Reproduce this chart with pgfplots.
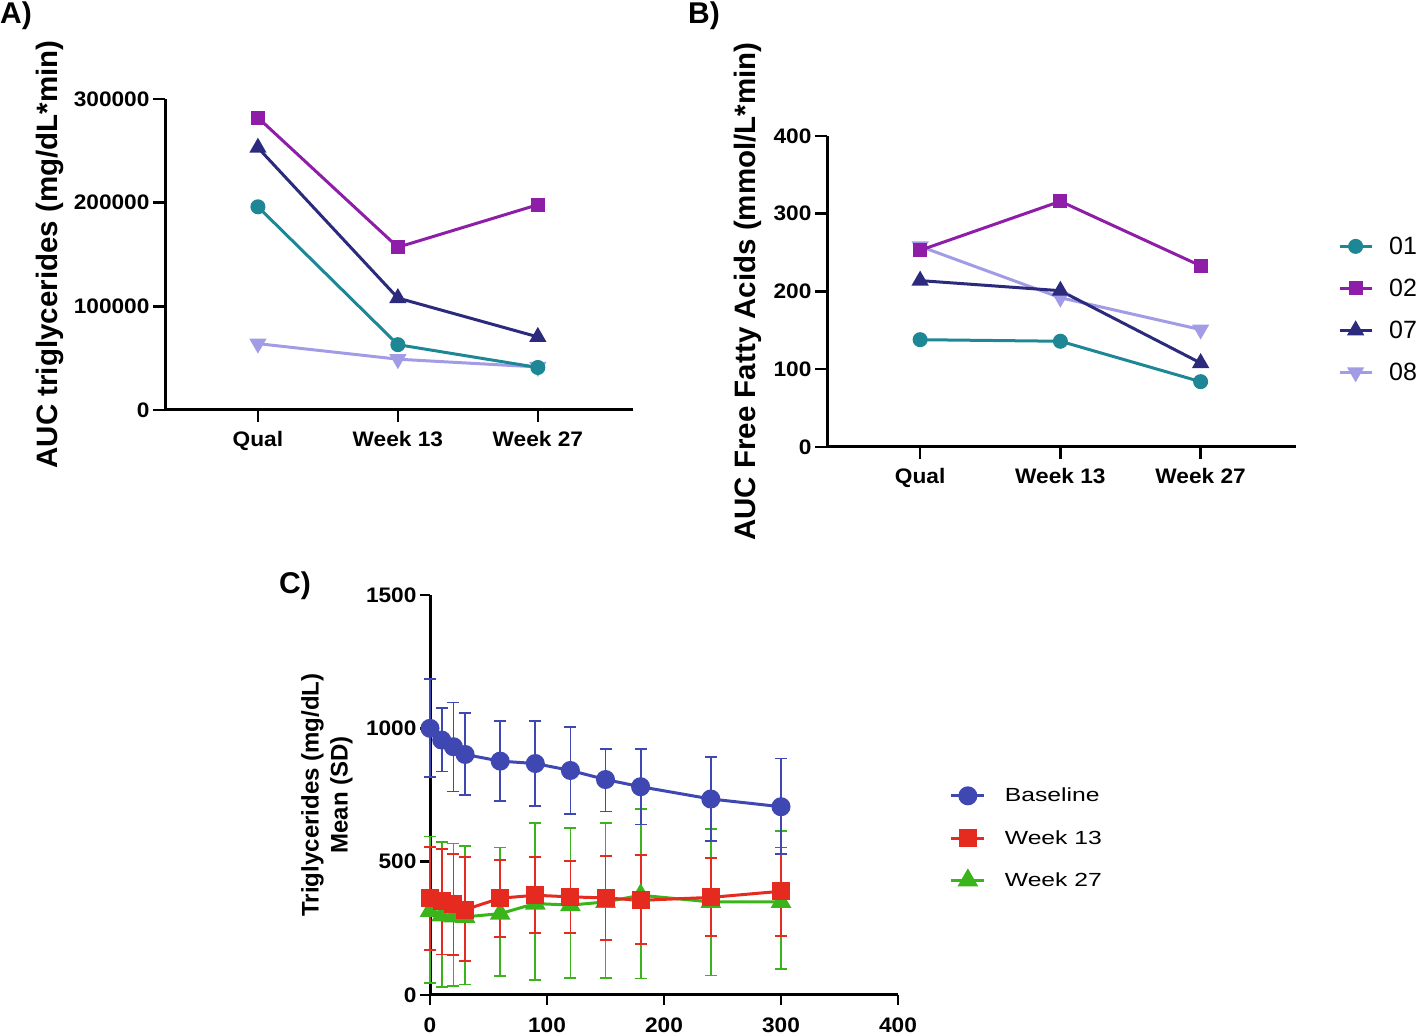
\documentclass[border=0pt]{standalone}
\usepackage{fontspec}
\setmainfont{Liberation Sans}
\newfontfamily\widefont{Liberation Sans}[FakeStretch=1.08]
\newfontfamily\legfont{Liberation Sans}[FakeStretch=1.3]
\usepackage{pgfplots}
\pgfplotsset{compat=1.18}
\usepackage{pgfplotstable}
\definecolor{cteal}{HTML}{1E8796}
\definecolor{cpurple}{HTML}{8E1EA8}
\definecolor{cnavy}{HTML}{2B2A7D}
\definecolor{clav}{HTML}{A29BE6}
\definecolor{cblue}{HTML}{3F48B2}
\definecolor{cred}{HTML}{E52B20}
\definecolor{cgreen}{HTML}{3BB31A}

\pgfplotstableread{
x y ep em
0 1000 185 182
10 956 121 118
20 931 166 168
30 902 155 153
60 877 149 150
90 868 160 158
120 842 162 164
150 808 115 120
180 781 141 142
240 735 158 158
300 706 181 178
}\baseline
\pgfplotstableread{
x y ep em
0 364 191 196
10 353 195 201
20 343 187 193
30 320 196 193
60 363 143 147
90 374 144 143
120 368 133 137
150 364 157 159
180 355 170 165
240 366 148 146
300 389 164 167
}\weekthirteen
\pgfplotstableread{
x y ep em
0 315 279 269
10 299 274 268
20 295 273 260
30 293 265 254
60 305 248 235
90 343 303 286
120 337 290 272
150 349 297 284
180 374 323 312
240 349 274 276
300 349 265 252
}\weektwentyseven

\begin{document}
\begin{tikzpicture}
\path[use as bounding box] (0,0) rectangle (1418pt,1035pt);
\pgfplotsset{
  base/.style={
    scale only axis,
    axis lines*=left,
    axis line style={-, line width=3pt, black},
    tick style={line width=2.5pt, black},
    major tick length=12pt,
    tick align=outside,
    minor tick num=0,
    scaled ticks=false,
    ticklabel style={font=\fontsize{21}{25}\selectfont\widefont\bfseries},
    xticklabel style={yshift=-6pt},
  },
  catax/.style={
    base,
    xmin=-0.664, xmax=2.68,
    xtick={0,1,2},
    xticklabels={Qual,Week 13,Week 27},
    ylabel style={font=\fontsize{29.5}{34}\selectfont\bfseries},
  },
  ser/.style={line width=3pt, mark options={solid}},
}
% Panel labels
\node[anchor=north west, inner sep=0pt, font=\fontsize{30}{34}\selectfont\bfseries] at (0pt,1033pt) {A)};
\node[anchor=north west, inner sep=0pt, font=\fontsize{30}{34}\selectfont\bfseries] at (688pt,1033pt) {B)};
\node[anchor=north west, inner sep=0pt, font=\fontsize{30}{34}\selectfont\bfseries] at (279pt,463pt) {C)};

% Panel A
\begin{axis}[catax,
  at={(165pt,625pt)}, anchor=south west, width=468pt, height=311pt,
  ymin=0, ymax=300000,
  ytick={0,100000,200000,300000},
  yticklabels={0,100000,200000,300000},
  ylabel={AUC triglycerides (mg/dL*min)},
  ylabel style={at={(axis description cs:-0.246,0.5)}, anchor=center},
]
\addplot[ser, clav, mark=triangle*, mark size=7pt, mark options={rotate=180}] coordinates {(0,64000) (1,49000) (2,41500)};
\addplot[ser, cnavy, mark=triangle*, mark size=7pt] coordinates {(0,253000) (1,108000) (2,70500)};
\addplot[ser, cpurple, mark=square*, mark size=5.5pt] coordinates {(0,282000) (1,157000) (2,198000)};
\addplot[ser, cteal, mark=*, mark size=6pt] coordinates {(0,196000) (1,63000) (2,41000)};
\end{axis}

% Panel B
\begin{axis}[catax,
  at={(827pt,588pt)}, anchor=south west, width=469pt, height=311pt,
  ymin=0, ymax=400,
  ytick={0,100,200,300,400},
  yticklabels={0,100,200,300,400},
  ylabel={AUC Free Fatty Acids (mmol/L*min)},
  ylabel style={at={(axis description cs:-0.168,0.5)}, anchor=center},
  legend style={draw=none, fill=none, at={(axis description cs:1.083,0.689)}, anchor=north west,
    font=\fontsize{25}{30}\selectfont, row sep=19pt, column sep=14pt,
    nodes={inner sep=2pt}},
  legend cell align=left,
  legend image code/.code={\draw[mark repeat=2,mark phase=2,#1] plot coordinates {(0pt,0pt) (16pt,0pt) (32pt,0pt)};},
]
\addplot[ser, clav, mark=triangle*, mark size=7pt, mark options={rotate=180}, forget plot] coordinates {(0,258) (1,192) (2,151)};
\addplot[ser, cnavy, mark=triangle*, mark size=7pt, forget plot] coordinates {(0,214) (1,201) (2,108)};
\addplot[ser, cpurple, mark=square*, mark size=5.5pt, forget plot] coordinates {(0,253) (1,316) (2,233)};
\addplot[ser, cteal, mark=*, mark size=6pt, forget plot] coordinates {(0,138) (1,136) (2,84)};
\addlegendimage{ser, cteal, mark=*, mark size=6pt}
\addlegendentry{01}
\addlegendimage{ser, cpurple, mark=square*, mark size=5.5pt}
\addlegendentry{02}
\addlegendimage{ser, cnavy, mark=triangle*, mark size=7pt}
\addlegendentry{07}
\addlegendimage{ser, clav, mark=triangle*, mark size=7pt, mark options={rotate=180}}
\addlegendentry{08}
\end{axis}

% Panel C
\begin{axis}[base,
  at={(430pt,40pt)}, anchor=south west, width=468pt, height=400pt,
  clip=false,
  major tick length=10pt,
  xticklabel style={yshift=-3pt},
  xmin=0, xmax=400, ymin=0, ymax=1500,
  xtick={0,100,200,300,400}, xticklabels={0,100,200,300,400},
  ytick={0,500,1000,1500}, yticklabels={0,500,1000,1500},
  ylabel={Triglycerides (mg/dL)\\Mean (SD)},
  ylabel style={font=\fontsize{24}{29}\selectfont\bfseries, align=center, at={(axis description cs:-0.22,0.5)}, anchor=center},
  legend style={draw=none, fill=none, at={(axis description cs:1.104,0.5275)}, anchor=north west,
    font=\fontsize{19}{22}\selectfont\legfont, row sep=23pt, column sep=17pt,
    nodes={inner sep=2pt}},
  legend cell align=left,
  legend image code/.code={\draw[mark repeat=2,mark phase=2,#1] plot coordinates {(0pt,0pt) (16.5pt,0pt) (33pt,0pt)};},
]
\addplot[ser, cgreen, mark=triangle*, mark size=9pt, forget plot,
  error bars/.cd, y dir=both, y explicit,
  error bar style={line width=1.8pt, cgreen},
  error mark options={rotate=90, mark size=6pt, line width=1.8pt, cgreen}]
  table[x=x, y=y, y error plus=ep, y error minus=em] {\weektwentyseven};
\addplot[ser, cred, mark=square*, mark size=7.5pt, forget plot,
  error bars/.cd, y dir=both, y explicit,
  error bar style={line width=1.8pt, cred},
  error mark options={rotate=90, mark size=6pt, line width=1.8pt, cred}]
  table[x=x, y=y, y error plus=ep, y error minus=em] {\weekthirteen};
\addplot[ser, cblue, mark=*, mark size=8pt, forget plot,
  error bars/.cd, y dir=both, y explicit,
  error bar style={line width=1.8pt, cblue},
  error mark options={rotate=90, mark size=6pt, line width=1.8pt, cblue}]
  table[x=x, y=y, y error plus=ep, y error minus=em] {\baseline};
\addlegendimage{ser, cblue, mark=*, mark size=8pt}
\addlegendentry{Baseline}
\addlegendimage{ser, cred, mark=square*, mark size=7.5pt}
\addlegendentry{Week 13}
\addlegendimage{ser, cgreen, mark=triangle*, mark size=9pt}
\addlegendentry{Week 27}
\end{axis}
\end{tikzpicture}
\end{document}
